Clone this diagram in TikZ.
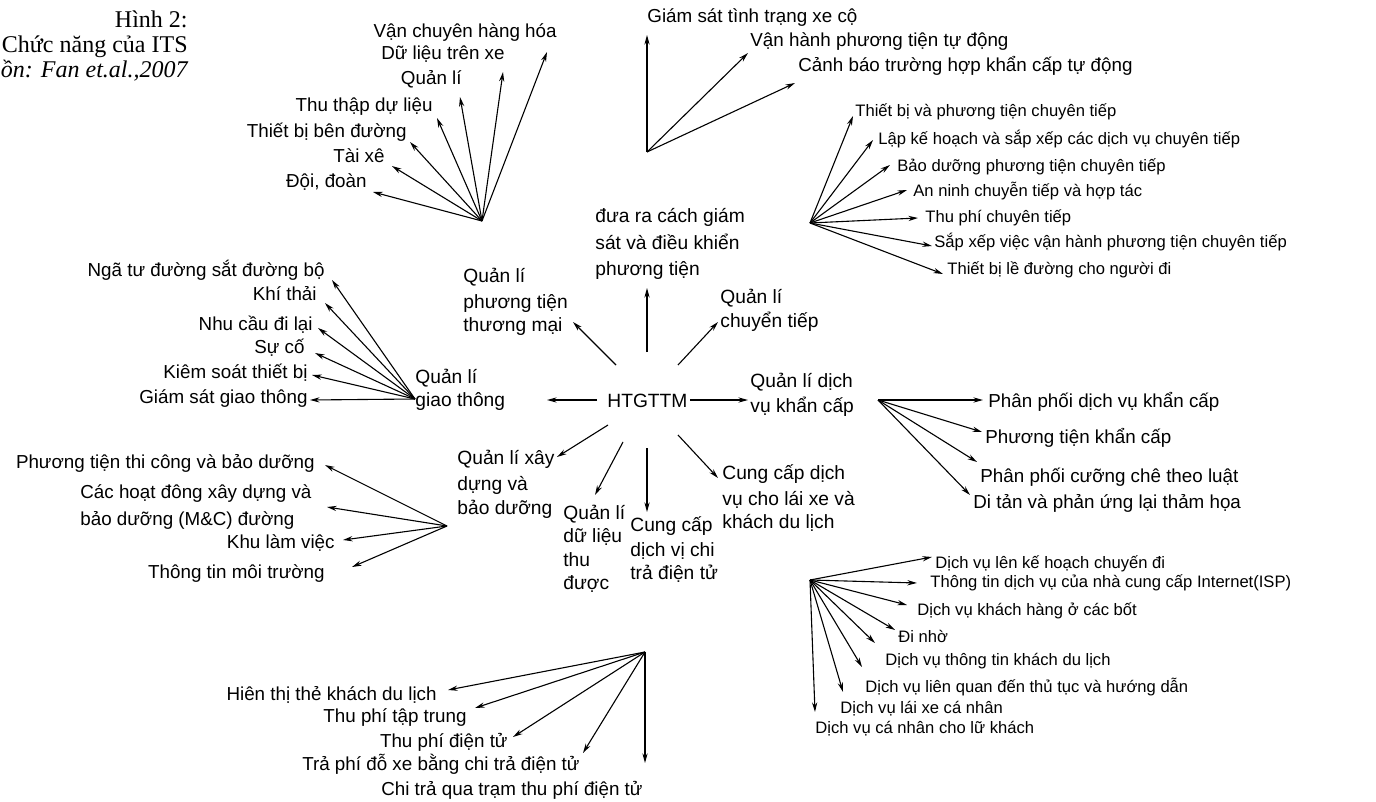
\documentclass[tikz,border=0pt]{standalone}
\usepackage{fontspec}
\setmainfont{Liberation Sans}
\newfontfamily\capfont{Liberation Serif}
\usetikzlibrary{arrows.meta}
\begin{document}
\begin{tikzpicture}[x=0.5pt,y=-0.5pt,
  arr/.style={-{Stealth[length=4.8pt,width=2.6pt]}, line width=0.55pt},
  big/.style={font=\fontsize{9.4}{11}\selectfont, inner sep=0pt},
  small/.style={font=\fontsize{8.3}{10}\selectfont, inner sep=0pt},
  labr/.style={big, anchor=base east},
  labl/.style={big, anchor=base west},
  slabl/.style={small, anchor=base west},
  mid/.style={font=\fontsize{9.6}{12}\selectfont, inner sep=0pt, anchor=base west},
  captxt/.style={font=\capfont\fontsize{12}{14}\selectfont, inner sep=0pt, anchor=base east}
  ]
\useasboundingbox (0,0) rectangle (1376,802);
\clip (0,0) rectangle (1376,802);

% caption
\node[captxt] (cap1) at (188,28) {Hình 2:};
\node[captxt] (cap2) at (188,53) {Chức năng của ITS};
\node[captxt] (cap3) at (188,78) {\itshape Nguồn: Fan et.al.,2007};

% centre
\node[mid] (htg) at (607,407) {HTGTTM};
\coordinate (cL) at (597,400);  \coordinate (eL) at (547,400);
\coordinate (cR) at (690,400);  \coordinate (eR) at (748,400);
\coordinate (cU) at (647,352);  \coordinate (eU) at (647,288);
\coordinate (cUL) at (616,365); \coordinate (eUL) at (573,322);
\coordinate (cUR) at (678,365); \coordinate (eUR) at (718,322);
\coordinate (cDL) at (608,425); \coordinate (eDL) at (557,457);
\coordinate (cD1) at (623,442); \coordinate (eD1) at (595,495);
\coordinate (cD2) at (647,448); \coordinate (eD2) at (647,512);
\coordinate (cDR) at (678,435); \coordinate (eDR) at (718,478);
\foreach \a/\b in {cL/eL,cR/eR,cU/eU,cUL/eUL,cUR/eUR,cDL/eDL,cD1/eD1,cD2/eD2,cDR/eDR}
  \draw[arr] (\a) -- (\b);

% middle labels
\node[mid] (gt1) at (415,383) {Quản lí};
\node[mid] (gt2) at (415,406) {giao thông};
\node[mid] (kc1) at (750,387) {Quản lí dịch};
\node[mid] (kc2) at (750,412) {vụ khẩn cấp};
\node[mid] (gs1) at (595,223) {đưa ra cách giám};
\node[mid] (gs2) at (595,250) {sát và điều khiển};
\node[mid] (gs3) at (595,276) {phương tiện};
\node[mid] (tm1) at (463,283) {Quản lí};
\node[mid] (tm2) at (463,308) {phương tiện};
\node[mid] (tm3) at (463,331) {thương mại};
\node[mid] (ct1) at (720,304) {Quản lí};
\node[mid] (ct2) at (720,328) {chuyển tiếp};
\node[mid] (xd1) at (457,464) {Quản lí xây};
\node[mid] (xd2) at (457,490) {dựng và};
\node[mid] (xd3) at (457,514) {bảo dưỡng};
\node[mid] (dl1) at (563,519) {Quản lí};
\node[mid] (dl2) at (563,542) {dữ liệu};
\node[mid] (dl3) at (563,566) {thu};
\node[mid] (dl4) at (563,589) {được};
\node[mid] (ep1) at (630,531) {Cung cấp};
\node[mid] (ep2) at (630,556) {dịch vị chi};
\node[mid] (ep3) at (630,579) {trả điện tử};
\node[mid] (dv1) at (722,479) {Cung cấp dịch};
\node[mid] (dv2) at (722,505) {vụ cho lái xe và};
\node[mid] (dv3) at (722,528) {khách du lịch};

% fan 1 : commercial vehicles
\coordinate (h1) at (482,221);
\node[labr] (f1a) at (557,38) {Vận chuyên hàng hóa};
\node[labr] (f1b) at (505,60) {Dữ liệu trên xe};
\node[labr] (f1c) at (462,85) {Quản lí};
\node[labr] (f1d) at (433,112) {Thu thập dự liệu};
\node[labr] (f1e) at (407,138) {Thiết bị bên đường};
\node[labr] (f1f) at (385,163) {Tài xê};
\node[labr] (f1g) at (367,188) {Đội, đoàn};
\coordinate (t1a) at (547,52);
\coordinate (t1b) at (503,72);
\coordinate (t1c) at (460,97);
\coordinate (t1d) at (437,118);
\coordinate (t1e) at (410,142);
\coordinate (t1f) at (392,166);
\coordinate (t1g) at (373,192);
\foreach \t in {t1a,t1b,t1c,t1d,t1e,t1f,t1g} \draw[arr] (h1) -- (\t);

% fan 2 : vehicle monitoring
\coordinate (h2) at (647,152);
\node[labl] (f2a) at (647,23) {Giám sát tình trạng xe cộ};
\node[labl] (f2b) at (750,47) {Vận hành phương tiện tự động};
\node[labl] (f2c) at (798,72) {Cảnh báo trường hợp khẩn cấp tự động};
\coordinate (t2a) at (647,35);
\coordinate (t2b) at (748,53);
\coordinate (t2c) at (795,83);
\foreach \t in {t2a,t2b,t2c} \draw[arr] (h2) -- (\t);

% fan 3 : transit
\coordinate (h3) at (810,223);
\node[slabl] (f3a) at (855,117) {Thiết bị và phương tiện chuyên tiếp};
\node[slabl] (f3b) at (878,145) {Lập kế hoạch và sắp xếp các dịch vụ chuyên tiếp};
\node[slabl] (f3c) at (897,172) {Bảo dưỡng phương tiện chuyên tiếp};
\node[slabl] (f3d) at (913,197) {An ninh chuyễn tiếp và hợp tác};
\node[slabl] (f3e) at (925,223) {Thu phí chuyên tiếp};
\node[slabl] (f3f) at (934,248) {Sắp xếp việc vận hành phương tiện chuyên tiếp};
\node[slabl] (f3g) at (947,275) {Thiết bị lề đường cho người đi};
\coordinate (t3a) at (853,116);
\coordinate (t3b) at (873,140);
\coordinate (t3c) at (890,165);
\coordinate (t3d) at (907,190);
\coordinate (t3e) at (918,218);
\coordinate (t3f) at (932,246);
\coordinate (t3g) at (943,274);
\foreach \t in {t3a,t3b,t3c,t3d,t3e,t3f,t3g} \draw[arr] (h3) -- (\t);

% fan 4 : traffic management
\coordinate (h4) at (415,399);
\node[labr] (f4a) at (325,277) {Ngã tư đường sắt đường bộ};
\node[labr] (f4b) at (317,300) {Khí thải};
\node[labr] (f4c) at (313,330) {Nhu cầu đi lại};
\node[labr] (f4d) at (305,353) {Sự cố};
\node[labr] (f4e) at (308,378) {Kiêm soát thiết bị};
\node[labr] (f4f) at (308,403) {Giám sát giao thông};
\coordinate (t4a) at (332,280);
\coordinate (t4b) at (325,303);
\coordinate (t4c) at (318,328);
\coordinate (t4d) at (315,353);
\coordinate (t4e) at (312,375);
\coordinate (t4f) at (310,400);
\foreach \t in {t4a,t4b,t4c,t4d,t4e,t4f} \draw[arr] (h4) -- (\t);

% fan 5 : construction and maintenance
\coordinate (h5) at (447,526);
\node[labr] (f5a) at (315,468) {Phương tiện thi công và bảo dưỡng};
\node[labl] (f5b) at (80,498) {Các hoạt đông xây dựng và};
\node[labl] (f5c) at (80,525) {bảo dưỡng (M\&C) đường};
\node[labr] (f5d) at (335,548) {Khu làm việc};
\node[labr] (f5e) at (325,578) {Thông tin môi trường};
\coordinate (t5a) at (325,465);
\coordinate (t5b) at (327,507);
\coordinate (t5d) at (343,540);
\coordinate (t5e) at (352,567);
\foreach \t in {t5a,t5b,t5d,t5e} \draw[arr] (h5) -- (\t);

% fan 6 : emergency
\coordinate (h6) at (878,400);
\node[labl] (f6a) at (988,407) {Phân phối dịch vụ khẩn cấp};
\node[labl] (f6b) at (985,443) {Phương tiện khẩn cấp};
\node[labl] (f6c) at (980,482) {Phân phối cưỡng chê theo luật};
\node[labl] (f6d) at (973,508) {Di tản và phản ứng lại thảm họa};
\coordinate (t6a) at (983,400);
\coordinate (t6b) at (982,432);
\coordinate (t6c) at (977,462);
\coordinate (t6d) at (970,495);
\foreach \t in {t6a,t6b,t6c,t6d} \draw[arr] (h6) -- (\t);

% fan 7 : traveller services
\coordinate (h7) at (810,580);
\node[slabl] (f7a) at (935,568) {Dịch vụ lên kế hoạch chuyến đi};
\node[slabl] (f7b) at (930,587) {Thông tin dịch vụ của nhà cung cấp Internet(ISP)};
\node[slabl] (f7c) at (917,615) {Dịch vụ khách hàng ở các bốt};
\node[slabl] (f7d) at (898,642) {Đi nhờ};
\node[slabl] (f7e) at (885,665) {Dịch vụ thông tin khách du lịch};
\node[slabl] (f7f) at (865,692) {Dịch vụ liên quan đến thủ tục và hướng dẫn};
\node[slabl] (f7g) at (840,713) {Dịch vụ lái xe cá nhân};
\node[slabl] (f7h) at (815,733) {Dịch vụ cá nhân cho lữ khách};
\coordinate (t7a) at (932,557);
\coordinate (t7b) at (917,583);
\coordinate (t7c) at (907,605);
\coordinate (t7d) at (895,630);
\coordinate (t7e) at (875,643);
\coordinate (t7f) at (862,667);
\coordinate (t7g) at (843,692);
\coordinate (t7h) at (815,712);
\foreach \t in {t7a,t7b,t7c,t7d,t7e,t7f,t7g,t7h} \draw[arr] (h7) -- (\t);

% fan 8 : electronic payment
\coordinate (h8) at (645,652);
\node[labr] (f8a) at (437,700) {Hiên thị thẻ khách du lịch};
\node[labr] (f8b) at (467,722) {Thu phí tập trung};
\node[labr] (f8c) at (508,747) {Thu phí điện tử};
\node[labr] (f8d) at (580,770) {Trả phí đỗ xe bằng chi trả điện tử};
\node[labr] (f8e) at (643,795) {Chi trả qua trạm thu phí điện tử};
\coordinate (t8a) at (448,690);
\coordinate (t8b) at (475,708);
\coordinate (t8c) at (513,737);
\coordinate (t8d) at (583,753);
\coordinate (t8e) at (645,763);
\foreach \t in {t8a,t8b,t8c,t8d,t8e} \draw[arr] (h8) -- (\t);
\end{tikzpicture}
\end{document}
